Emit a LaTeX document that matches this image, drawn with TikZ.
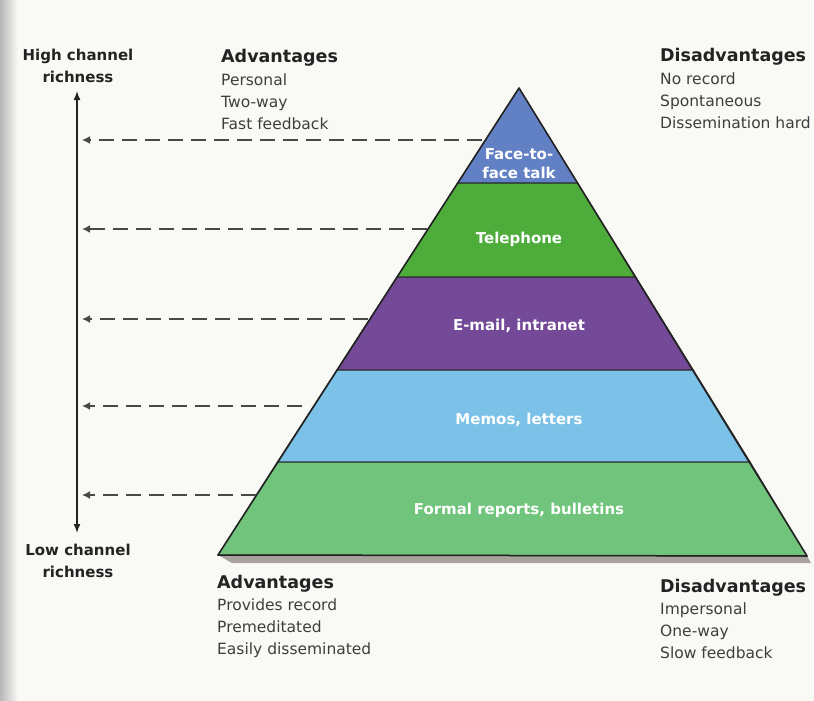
\documentclass[tikz,border=0pt]{standalone}
\usepackage{fontspec}
\setmainfont{DejaVu Sans}
\usetikzlibrary{arrows.meta}
\usetikzlibrary{positioning}
\definecolor{paper}{RGB}{249,249,246}
\definecolor{facecol}{RGB}{98,128,196}
\definecolor{phonecol}{RGB}{78,172,58}
\definecolor{mailcol}{RGB}{116,74,152}
\definecolor{memocol}{RGB}{124,194,232}
\definecolor{reportcol}{RGB}{112,196,124}
\definecolor{inkcol}{RGB}{35,35,35}
\definecolor{textcol}{RGB}{62,62,62}
\definecolor{dashcol}{RGB}{72,72,72}
\definecolor{shadowcol}{RGB}{168,162,156}
\tikzset {
  % pyramid layers
  layer/.style = {
    draw = inkcol,
    line width = 1pt
  },
  layer text/.style = {
    text = white,
    font = \bfseries\fontsize{15}{19}\selectfont,
    align = center,
    inner sep = 0
  },
  % richness axis and its links
  axis/.style = {
    draw = inkcol,
    line width = 1.5pt,
    {Latex[length=9pt,width=7pt]}-{Latex[length=9pt,width=7pt]}
  },
  link/.style = {
    draw = dashcol,
    line width = 2.5pt,
    dash pattern = on 15pt off 8pt,
    -{Latex[length=8pt,width=8pt]}
  }
}
\tikzset {
  rich/.style = {
    text = inkcol,
    font = \bfseries\fontsize{15}{15}\selectfont,
    inner sep = 0,
    anchor = base
  },
  % list heading
  heading/.style = {
    text = inkcol,
    font = \bfseries\fontsize{17.5}{17.5}\selectfont,
    inner sep = 0,
    text height = 13pt,
    text depth = 4pt,
    anchor = base west
  },
  % list entry
  entry/.style = {
    text = textcol,
    font = \fontsize{15.5}{15.5}\selectfont,
    inner sep = 0,
    text height = 11pt,
    text depth = 3.5pt
  },
  node distance = 7pt
}

\begin{document}
\begin{tikzpicture}[x=1pt, y=-1pt]
    \useasboundingbox (0,0) rectangle (814,701);
    \clip (0,0) rectangle (814,701);
    \fill[paper] (0,0) rectangle (814,701);
    \shade[left color=black!28, right color=paper] (0,0) rectangle (18,701);

    % pyramid corners
    \coordinate (apex) at (519,88);
    \coordinate (face-l) at (457.6,183);
    \coordinate (face-r) at (577.7,183);
    \coordinate (phone-l) at (396.9,277);
    \coordinate (phone-r) at (635.8,277);
    \coordinate (mail-l) at (336.8,370);
    \coordinate (mail-r) at (693.3,370);
    \coordinate (memo-l) at (277.4,462);
    \coordinate (memo-r) at (750.1,462);
    \coordinate (report-l) at (218,555);
    \coordinate (report-r) at (807,556);

    % shadow under the base
    \fill[shadowcol] (report-l) -- (report-r) -- (811,563) -- (232,563) -- cycle;

    % layers
    \path[layer, fill=facecol] (apex) -- (face-r) -- (face-l) -- cycle;
    \path[layer, fill=phonecol] (face-l) -- (face-r) -- (phone-r) -- (phone-l) -- cycle;
    \path[layer, fill=mailcol] (phone-l) -- (phone-r) -- (mail-r) -- (mail-l) -- cycle;
    \path[layer, fill=memocol] (mail-l) -- (mail-r) -- (memo-r) -- (memo-l) -- cycle;
    \path[layer, fill=reportcol] (memo-l) -- (memo-r) -- (report-r) -- (report-l) -- cycle;
    \draw[inkcol, line width=1.5pt, line join=round]
      (apex) -- (report-r) -- (report-l) -- cycle;

    \node[layer text] (face) at (519,164) {Face-to-\\face talk};
    \node[layer text] (phone) at (519,239) {Telephone};
    \node[layer text] (mail) at (519,326) {E-mail, intranet};
    \node[layer text] (memo) at (519,420) {Memos, letters};
    \node[layer text] (report) at (519,510) {Formal reports, bulletins};

    % richness axis
    \node[rich] (high 1) at (78,61) {High channel};
    \node[rich] (high 2) at (78,82) {richness};
    \node[rich] (low 1) at (78,555) {Low channel};
    \node[rich] (low 2) at (78,577) {richness};
    \coordinate (axis-top) at (77,91);
    \coordinate (axis-bot) at (77,533);
    \draw[axis] (axis-bot) -- (axis-top);

    % links from layers to axis
    \coordinate (face-edge) at (482,140);
    \coordinate (face-axis) at (82,140);
    \coordinate (phone-edge) at (427,229);
    \coordinate (phone-axis) at (82,229);
    \coordinate (mail-edge) at (368,319);
    \coordinate (mail-axis) at (82,319);
    \coordinate (memo-edge) at (302,406);
    \coordinate (memo-axis) at (82,406);
    \coordinate (report-edge) at (256,495);
    \coordinate (report-axis) at (82,495);
    \draw[link] (face-edge) -- (face-axis);
    \draw[link] (phone-edge) -- (phone-axis);
    \draw[link] (mail-edge) -- (mail-axis);
    \draw[link] (memo-edge) -- (memo-axis);
    \draw[link] (report-edge) -- (report-axis);

    % top lists
    \node[heading] (adv rich) at (221,63) {Advantages};
    \node[entry] (personal) [below=of adv rich.south west, anchor=north west] {Personal};
    \node[entry] (two way) [below=of personal.south west, anchor=north west] {Two-way};
    \node[entry] (fast) [below=of two way.south west, anchor=north west] {Fast feedback};

    \node[heading] (dis rich) at (660,62) {Disadvantages};
    \node[entry] (no record) [below=of dis rich.south west, anchor=north west] {No record};
    \node[entry] (spont) [below=of no record.south west, anchor=north west] {Spontaneous};
    \node[entry] (hard) [below=of spont.south west, anchor=north west] {Dissemination hard};

    % bottom lists
    \node[heading] (adv lean) at (217,588) {Advantages};
    \node[entry] (record) [below=of adv lean.south west, anchor=north west] {Provides record};
    \node[entry] (premed) [below=of record.south west, anchor=north west] {Premeditated};
    \node[entry] (easy) [below=of premed.south west, anchor=north west] {Easily disseminated};

    \node[heading] (dis lean) at (660,592) {Disadvantages};
    \node[entry] (imperson) [below=of dis lean.south west, anchor=north west] {Impersonal};
    \node[entry] (one way) [below=of imperson.south west, anchor=north west] {One-way};
    \node[entry] (slow) [below=of one way.south west, anchor=north west] {Slow feedback};
\end{tikzpicture}
\end{document}
